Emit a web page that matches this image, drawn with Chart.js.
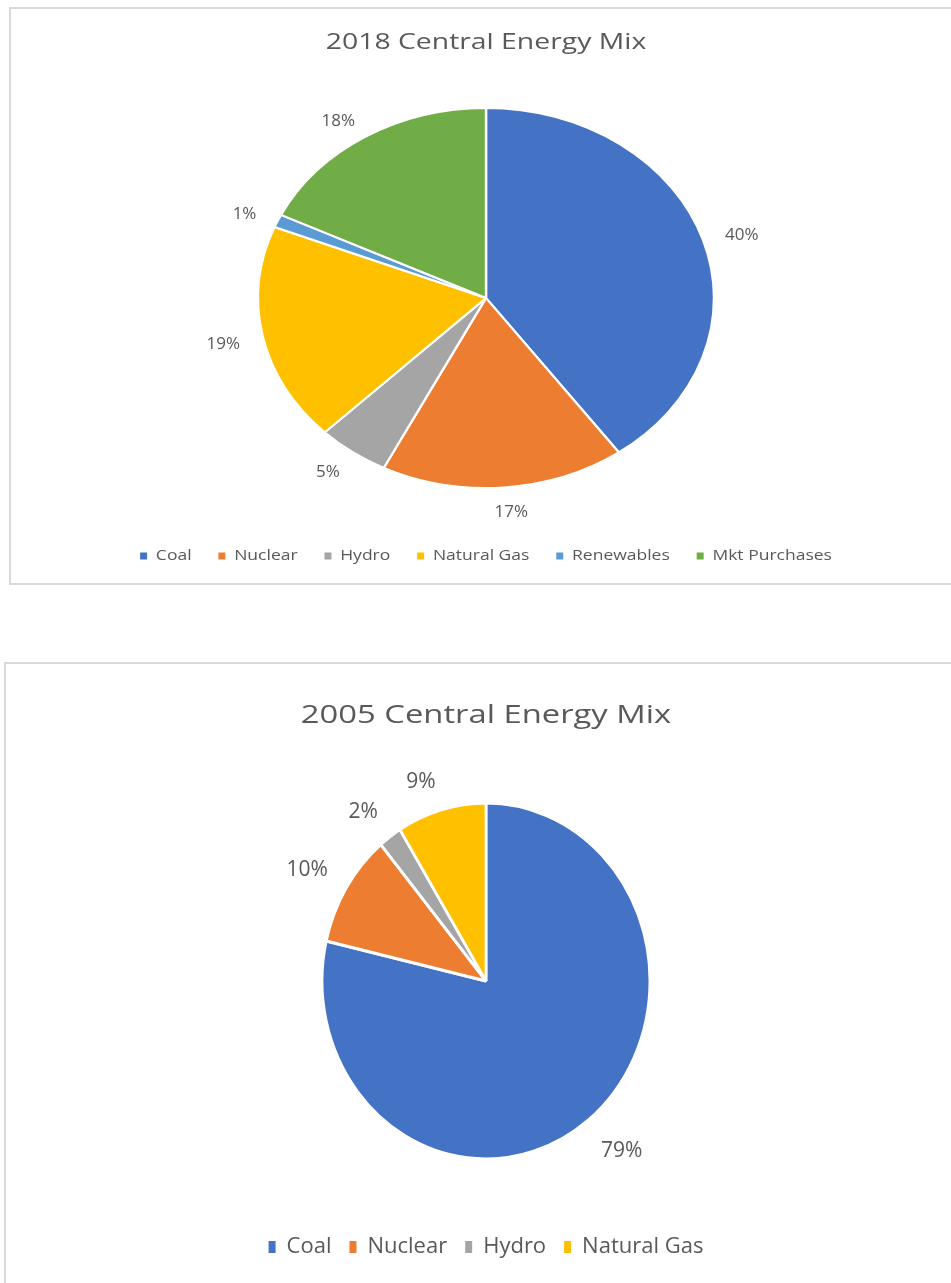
<!DOCTYPE html>
<html><head><meta charset="utf-8">
<script src="https://cdn.jsdelivr.net/npm/chart.js@4.4.0/dist/chart.umd.min.js"></script>
<style>
html,body{margin:0;padding:0;background:#fff;width:951px;height:1283px;overflow:hidden;position:relative;}
.box{position:absolute;border:2px solid #d9d9d9;background:#fff;box-sizing:border-box;}
.wrap{position:absolute;}
</style></head><body>
<div class="box" style="left:9px;top:7px;width:1000px;height:578px;"></div>
<div class="box" style="left:4px;top:662px;width:1000px;height:700px;"></div>
<div class="wrap" style="left:7px;top:9px;width:944px;height:574px;"><canvas id="c1"></canvas></div>
<div class="wrap" style="left:5px;top:665px;width:946px;height:618px;"><canvas id="c2"></canvas></div>
<script>
// ---- data ----
const title2018 = '2018 Central Energy Mix';
const cats2018 = ['Coal','Nuclear','Hydro','Natural Gas','Renewables','Mkt Purchases'];
const vals2018 = [40.1, 17.3, 5.1, 18.6, 1.1, 17.8];
const title2005 = '2005 Central Energy Mix';
const cats2005 = ['Coal','Nuclear','Hydro','Natural Gas'];
const vals2005 = [78.6, 10.3, 2.3, 8.8];
const sliceColors = ['#4472C4','#ED7D31','#A5A5A5','#FFC000','#5B9BD5','#70AD47'];

Chart.defaults.font.family = "'Open Sans', sans-serif";
Chart.defaults.color = '#595959';

const sp = (v, e) => Math.sign(v) * Math.pow(Math.abs(v), e);

// elliptical pie + outside percentage labels
const piePlugin = {
  id: 'pieShape',
  beforeDatasetsDraw(chart, args, opts) {
    const a = chart.getDatasetMeta(0).data[0]; if (!a) return;
    const ctx = chart.ctx; ctx.save();
    ctx.translate(a.x, a.y); ctx.scale(opts.sx, 1); ctx.translate(-a.x, -a.y);
  },
  afterDatasetsDraw(chart, args, opts) {
    const ctx = chart.ctx; ctx.restore();
    const meta = chart.getDatasetMeta(0);
    const vals = chart.data.datasets[0].data;
    const total = vals.reduce((s, v) => s + v, 0);
    ctx.save();
    ctx.font = opts.size + "px 'Open Sans', sans-serif";
    ctx.fillStyle = '#595959'; ctx.textAlign = 'center'; ctx.textBaseline = 'middle';
    meta.data.forEach((arc, i) => {
      const p = arc.getProps(['x','y','startAngle','endAngle','outerRadius'], true);
      const mid = (p.startAngle + p.endAngle) / 2;
      const ex = p.x + Math.cos(mid) * p.outerRadius * opts.sx;
      const ey = p.y + Math.sin(mid) * p.outerRadius;
      let ux = Math.cos(mid) * opts.sx, uy = Math.sin(mid);
      const L = Math.hypot(ux, uy); ux /= L; uy /= L;
      const txt = Math.round(vals[i] / total * 100) + '%';
      const w = ctx.measureText(txt).width, h = opts.size * 0.75;
      const lx = ex + ux * opts.gx + w / 2 * sp(ux, opts.e);
      const ly = ey + uy * opts.gy + h / 2 * sp(uy, opts.e) + opts.size * 0.17;
      ctx.fillText(txt, lx, ly);
    });
    ctx.restore();
  }
};

// horizontal stretch of title / legend text blocks
function stretchBlock(block, s) {
  if (!block || block._stretched || s === 1) return;
  block._stretched = true;
  const orig = block.draw;
  block.draw = function (area) {
    const ctx = this.ctx; const cx = (this.left + this.right) / 2;
    ctx.save(); ctx.translate(cx, 0); ctx.scale(s, 1); ctx.translate(-cx, 0);
    orig.call(this, area);
    ctx.restore();
  };
}
const stretchPlugin = {
  id: 'stretch',
  beforeDraw(chart, args, opts) {
    stretchBlock(chart.titleBlock, opts.title);
    stretchBlock(chart.legend, opts.legend);
  }
};

const baseGen = (Chart.DoughnutController || Chart.PieController).overrides.plugins.legend.labels.generateLabels;

function makeChart(id, title, cats, vals, o) {
  return new Chart(document.getElementById(id), {
    type: 'pie',
    data: { labels: cats, datasets: [{ data: vals, backgroundColor: sliceColors.slice(0, cats.length),
      borderColor: '#ffffff', borderWidth: o.border, radius: o.radius, hoverOffset: 0 }] },
    options: {
      responsive: true, maintainAspectRatio: false, animation: false, events: [],
      layout: { padding: { left: o.pl, right: 0, top: 0, bottom: o.pb } },
      plugins: {
        title: { display: true, text: title, color: '#595959',
          font: { size: o.titleSize, weight: 'normal' }, padding: { top: o.tTop, bottom: o.tBot } },
        legend: { display: true, position: 'bottom',
          labels: { color: '#595959', font: { size: o.legSize }, boxWidth: o.boxW, boxHeight: o.boxH, padding: o.legPad,
            generateLabels: (ch) => baseGen(ch).map(l => Object.assign(l, { lineWidth: 0, strokeStyle: 'rgba(0,0,0,0)' })) } },
        tooltip: { enabled: false },
        pieShape: { sx: o.sx, size: o.labSize, gx: o.gx, gy: o.gy, e: o.e },
        stretch: { title: o.titleS, legend: o.legS }
      }
    },
    plugins: [piePlugin, stretchPlugin]
  });
}

makeChart('c1', title2018, cats2018, vals2018, {
  pl: 14, pb: 10, titleSize: 21, tTop: 21.9, tBot: 12.4, titleS: 1.35,
  legSize: 14, boxW: 5.6, boxH: 7, legPad: 21.5, legS: 1.25,
  sx: 1.2, radius: 190, border: 2, labSize: 17, gx: 23, gy: 16, e: 0.5
});
makeChart('c2', title2005, cats2005, vals2005, {
  pl: 16, pb: 15, titleSize: 26, tTop: 35.4, tBot: 12.4, titleS: 1.26,
  legSize: 22, boxW: 7, boxH: 12, legPad: 18, legS: 1.0,
  sx: 0.921, radius: 178, border: 3, labSize: 21, gx: 22, gy: 24, e: 0
});
</script>
</body></html>
